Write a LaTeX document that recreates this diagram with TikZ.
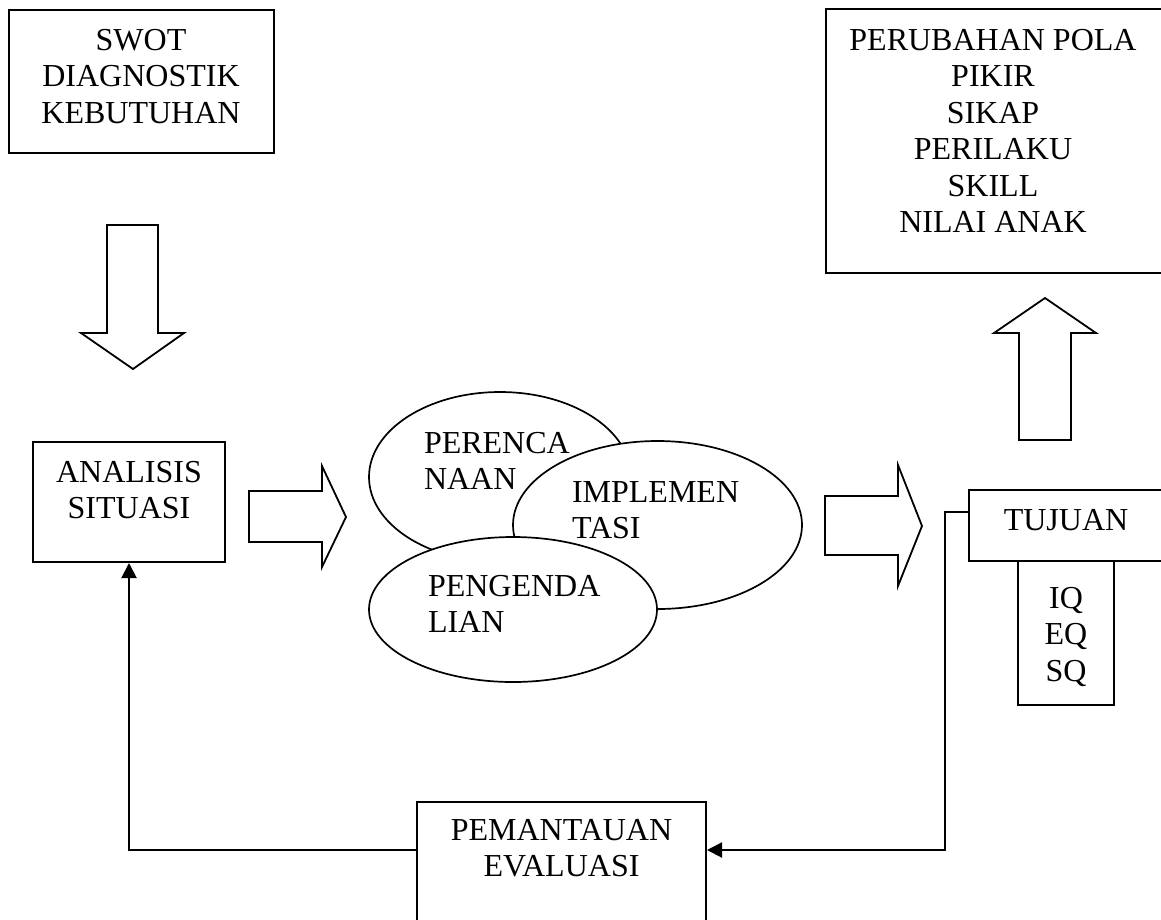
\documentclass[tikz,border=0pt]{standalone}
\usepackage{fontspec}
\setmainfont{Liberation Serif}
\usetikzlibrary{shapes.geometric,arrows.meta,fit}
\newcommand{\mytab}[2]{\begin{tabular}[t]{@{}#1@{}}#2\end{tabular}}
\begin{document}
\begin{tikzpicture}[x=1pt,y=-1pt,line width=2pt,
  boxst/.style={draw,inner sep=0pt},
  ellst/.style={draw,ellipse,fill=white,inner sep=0pt,line width=1.7pt},
  txt/.style={font=\fontsize{32}{36.5}\selectfont,inner sep=0pt,anchor=base},
  blk/.style={draw,fill=white,line join=miter,line width=1.8pt},
  conn/.style={draw,-{Triangle[width=15pt,length=15pt]}}]
\useasboundingbox (0,0) rectangle (1161,919);
% boxes
\node[boxst,fit={(9,10) (274,153)}] (swot) {};
\node[boxst,fit={(826,9) (1165,273)}] (perub) {};
\node[boxst,fit={(33,442) (225,562)}] (ana) {};
\node[boxst,fit={(969,490) (1165,561)}] (tuj) {};
\node[boxst,fit={(1018,561) (1114,705)}] (iq) {};
\node[boxst,fit={(417,802) (706,930)}] (pem) {};
% ellipses
\node[ellst,minimum width=262pt,minimum height=170pt] (per) at (500,477) {};
\node[ellst,minimum width=289pt,minimum height=168pt] (imp) at (657.5,525) {};
\node[ellst,minimum width=288pt,minimum height=145pt] (pen) at (513,609.5) {};
% texts
\node[txt] (tswot) at (141,50) {\mytab{c}{SWOT\\DIAGNOSTIK\\KEBUTUHAN}};
\node[txt] (tperub) at (993,50) {\mytab{c}{PERUBAHAN POLA\\PIKIR\\SIKAP\\PERILAKU\\SKILL\\NILAI ANAK}};
\node[txt] (tana) at (129,482) {\mytab{c}{ANALISIS\\SITUASI}};
\node[txt] (ttuj) at (1066,530) {TUJUAN};
\node[txt] (tiq) at (1066,608) {\mytab{c}{IQ\\EQ\\SQ}};
\node[txt] (tpem) at (561.5,840) {\mytab{c}{PEMANTAUAN\\EVALUASI}};
\node[txt,anchor=base west] (tper) at (423,453) {\mytab{l}{PERENCA\\NAAN}};
\node[txt,anchor=base west] (timp) at (571,502) {\mytab{l}{IMPLEMEN\\TASI}};
\node[txt,anchor=base west] (tpen) at (427,596) {\mytab{l}{PENGENDA\\LIAN}};
% block arrows
\draw[blk] (107,225) -- (158,225) -- (158,333) -- (184,333) -- (133,369) -- (81,333) -- (107,333) -- cycle;
\draw[blk] (1019,440) -- (1071,440) -- (1071,333) -- (1096,333) -- (1045,298) -- (994,333) -- (1019,333) -- cycle;
\draw[blk] (249,491) -- (322,491) -- (322,466) -- (346,517) -- (322,567) -- (322,542) -- (249,542) -- cycle;
\draw[blk] (825,496) -- (898,496) -- (898,465) -- (922,526) -- (898,586) -- (898,555) -- (825,555) -- cycle;
% feedback connectors
\draw[conn] ([yshift=-23pt]tuj.north west) -- ++(-23,0) |- ([yshift=16pt]pem.east);
\draw[conn] ([yshift=16pt]pem.west) -| (ana.south);
\end{tikzpicture}
\end{document}
